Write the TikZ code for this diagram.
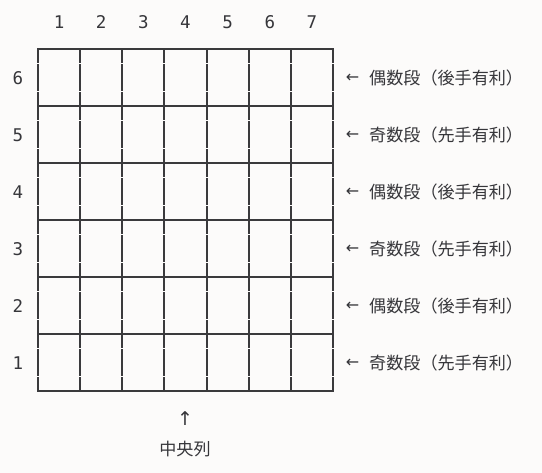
\documentclass[tikz,border=0pt]{standalone}
\usepackage{fontspec}
\newfontfamily\cjkfont{Noto Sans CJK JP}
\newfontfamily\monofont{DejaVu Sans Mono}
\newfontfamily\arrowfont{DejaVu Sans}
\definecolor{bgc}{RGB}{252,251,250}
\definecolor{ink}{RGB}{54,54,58}
\definecolor{gridc}{RGB}{58,58,60}
\begin{document}
\begin{tikzpicture}[x=1pt,y=-1pt,
  gridline/.style={draw=gridc,line width=2pt},
  gapmark/.style={draw=bgc,line width=0.8pt},
  numlabel/.style={inner sep=0pt,anchor=base,text=ink,font=\monofont\fontsize{17.5}{20}\selectfont},
  arrowlabel/.style={inner sep=0pt,anchor=base,text=ink,font=\arrowfont\fontsize{16}{20}\selectfont},
  cjklabel/.style={inner sep=0pt,text=ink,font=\cjkfont\fontsize{17.1}{20}\selectfont}]
\fill[bgc] (0,0) rectangle (542,473);
\useasboundingbox (0,0) rectangle (542,473);
\def\gx{38}\def\gy{49}\def\cw{42.14}\def\rh{57}
% grid
\foreach \i in {0,...,7} {
  \draw[gridline] ({\gx+\cw*\i},\gy) -- ({\gx+\cw*\i},{\gy+6*\rh});
}
\foreach \j in {0,...,6} {
  \draw[gridline] (\gx-1,{\gy+\rh*\j}) -- ({\gx+7*\cw+1},{\gy+\rh*\j});
}
% small gaps of the box-drawing characters
\foreach \k in {0,...,11} {
  \foreach \i in {0,...,7} {
    \draw[gapmark] ({\gx+\cw*\i-1.6},{\gy+14.25+28.5*\k}) -- ({\gx+\cw*\i+1.6},{\gy+14.25+28.5*\k});
  }
}
% column numbers
\foreach \i in {1,...,7} {
  \node[numlabel] (c\i) at ({\gx+\cw*(\i-0.5)},28.3) {\i};
}
% row numbers
\foreach \r in {1,...,6} {
  \node[numlabel] (r\r) at (18,{85+\rh*(6-\r)}) {\r};
}
% right labels
\foreach \r/\t in {6/偶数段（後手有利）,5/奇数段（先手有利）,4/偶数段（後手有利）,3/奇数段（先手有利）,2/偶数段（後手有利）,1/奇数段（先手有利）} {
  \node[arrowlabel] (a\r) at (352.5,{82.5+\rh*(6-\r)}) {←};
  \node[cjklabel,anchor=west] (t\r) at (369,{78.5+\rh*(6-\r)}) {\t};
}
% bottom
\node[arrowlabel,font=\arrowfont\fontsize{19}{22}\selectfont] (up) at (185,426) {↑};
\node[cjklabel] (mid) at (185,449.5) {中央列};
\end{tikzpicture}
\end{document}
